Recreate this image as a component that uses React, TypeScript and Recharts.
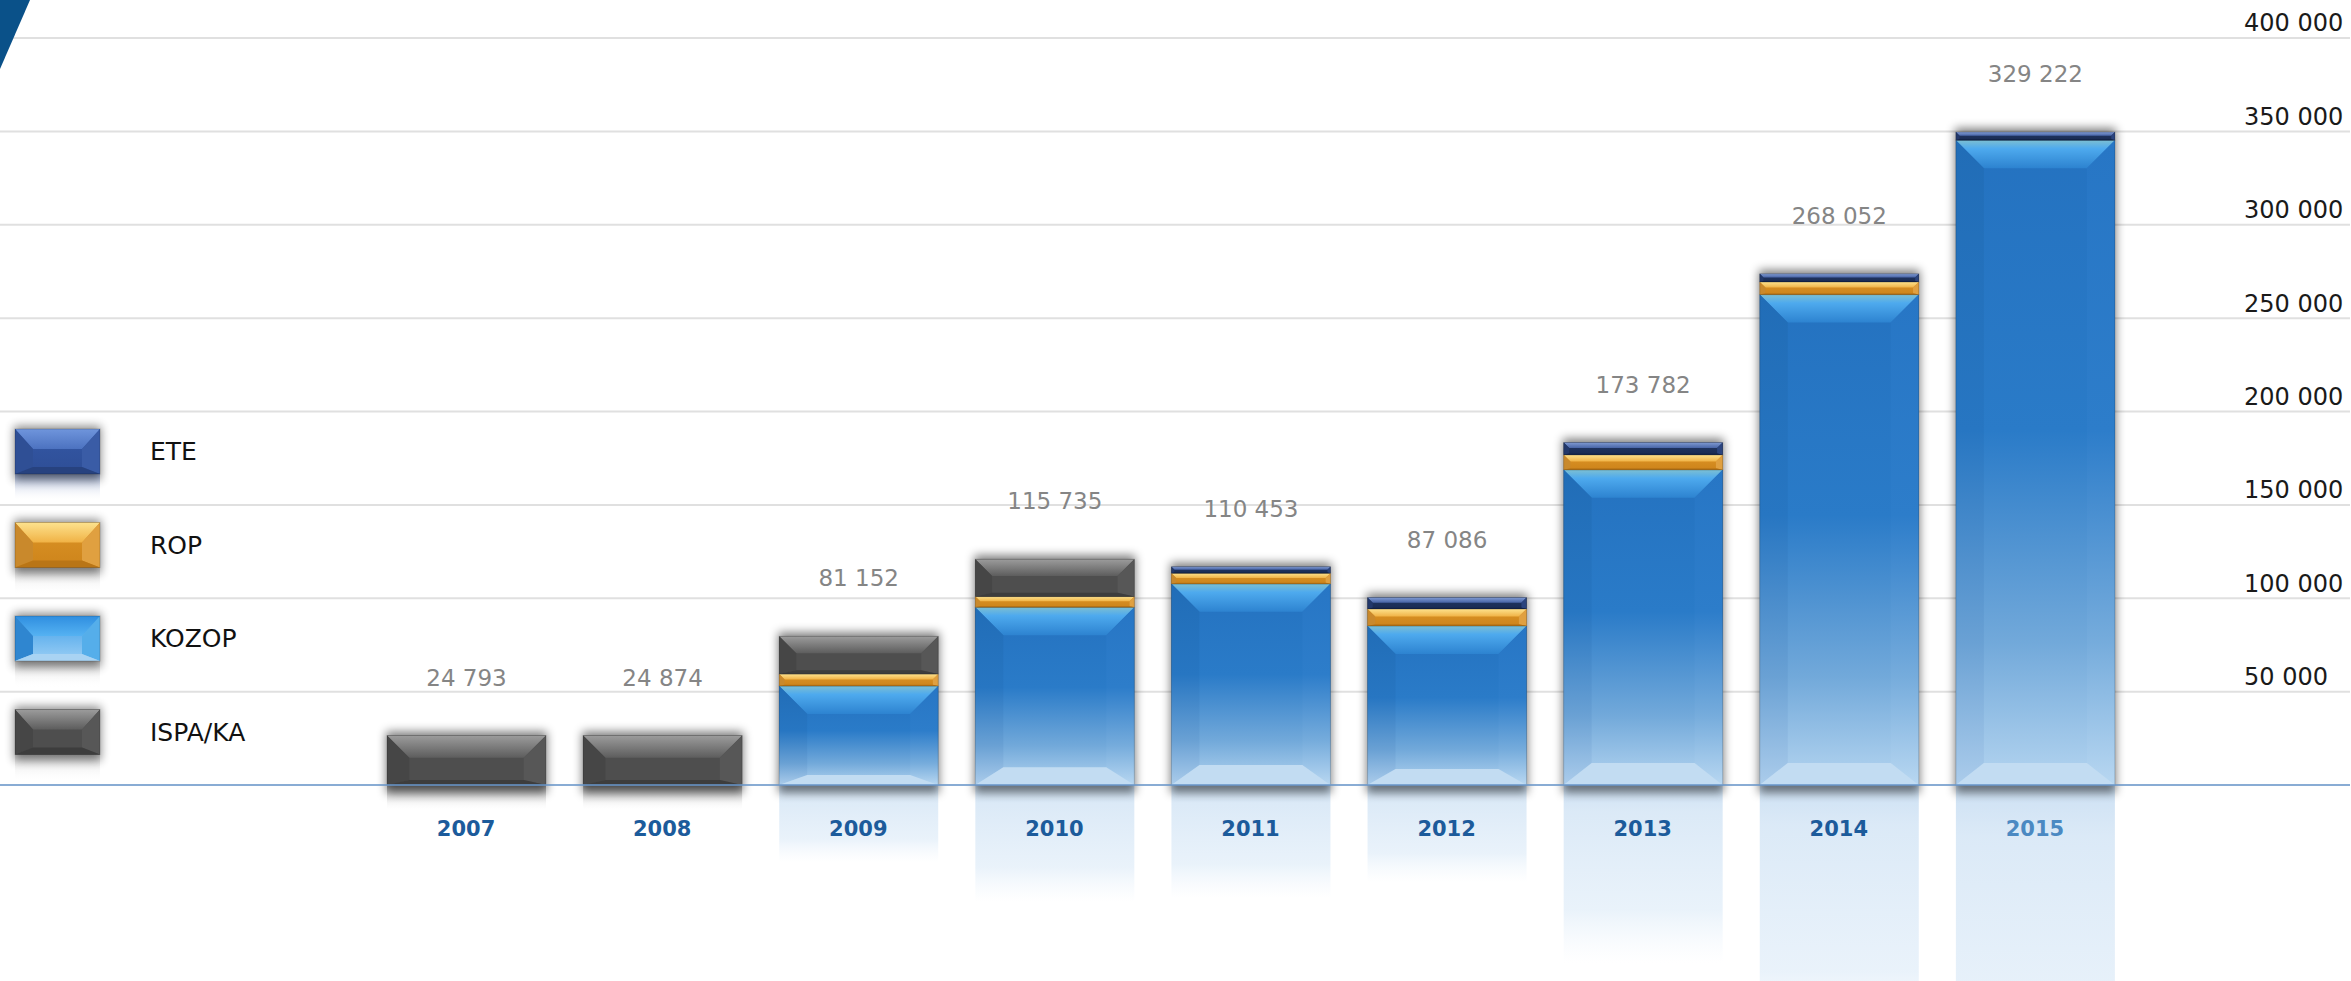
import React from 'react';
import { BarChart, Bar, XAxis, YAxis, CartesianGrid, ReferenceLine, LabelList, Legend } from 'recharts';

// ---------- data ----------
const years = ['2007', '2008', '2009', '2010', '2011', '2012', '2013', '2014', '2015'];
const kozopValues = [0, 0, 53000, 95200, 107700, 85200, 168800, 262600, 345300];
const ropValues = [0, 0, 6400, 5700, 5700, 9100, 8000, 6800, 0];
const ispaValues = [26500, 26500, 20200, 20000, 0, 0, 0, 0, 0];
const eteValues = [0, 0, 0, 0, 3500, 6100, 6600, 4300, 4300];
const totalLabels = [24793, 24874, 81152, 115735, 110453, 87086, 173782, 268052, 329222];
const yTicks = [0, 50000, 100000, 150000, 200000, 250000, 300000, 350000, 400000];

const seriesKeys = ['kozop', 'rop', 'ispa', 'ete'];
const seriesNames: Record<string, string> = { kozop: 'KOZOP', rop: 'ROP', ispa: 'ISPA/KA', ete: 'ETE' };
const legendOrder = ['ete', 'rop', 'kozop', 'ispa'];

const data = years.map((year, i) => ({
  year,
  kozop: kozopValues[i],
  rop: ropValues[i],
  ispa: ispaValues[i],
  ete: eteValues[i],
  total: totalLabels[i],
}));

const W = 2351;
const H = 981;
const FONT = '"DejaVu Sans", sans-serif';

const fmt = (n: number) => String(n).replace(/\B(?=(\d{3})+(?!\d))/g, ' ');

type Pal = { top: string; body: string; left: string; right: string; bottom: string };
const PAL: Record<string, Pal> = {
  kozop: { top: 'url(#kz-top)', body: 'url(#kz-body)', left: 'url(#kz-left)', right: 'url(#kz-right)', bottom: '#c2dcf2' },
  rop: { top: 'url(#rp-top)', body: 'url(#rp-body)', left: '#c9892c', right: '#e0a040', bottom: '#b97516' },
  ispa: { top: 'url(#is-top)', body: '#4e4e4e', left: '#464646', right: '#575757', bottom: '#3d3d3d' },
  ete: { top: 'url(#et-top)', body: 'url(#et-body)', left: '#22386a', right: '#2b447e', bottom: '#15244a' },
};
const LEGEND_PAL: Record<string, Pal> = {
  ...PAL,
  ete: { top: 'url(#etl-top)', body: 'url(#etl-body)', left: '#2f4f95', right: '#3a5ca6', bottom: '#27427f' },
  kozop: { top: 'url(#kzl-top)', body: 'url(#kzl-body)', left: '#2f86d0', right: '#55aeea', bottom: '#a9d3f3' },
};

function Bevel({ x, y, w, h, pal, t, b, bb }: { x: number; y: number; w: number; h: number; pal: Pal; t: number; b: number; bb: number }) {
  return (
    <g>
      <rect x={x} y={y} width={w} height={h} fill={pal.body} />
      <polygon points={`${x},${y} ${x + w},${y} ${x + w - b},${y + t} ${x + b},${y + t}`} fill={pal.top} />
      <polygon points={`${x},${y} ${x + b},${y + t} ${x + b},${y + h - bb} ${x},${y + h}`} fill={pal.left} />
      <polygon points={`${x + w},${y} ${x + w},${y + h} ${x + w - b},${y + h - bb} ${x + w - b},${y + t}`} fill={pal.right} />
      <polygon points={`${x},${y + h} ${x + b},${y + h - bb} ${x + w - b},${y + h - bb} ${x + w},${y + h}`} fill={pal.bottom} />
      <rect x={x} y={y} width={w} height={h} fill="none" stroke="rgba(0,0,0,0.18)" strokeWidth={1} />
    </g>
  );
}

const makeShape = (key: string) => (props: any) => {
  const { x, y, width: w, height: h, payload } = props;
  if (!h || h <= 0.01 || !payload) return <g />;
  const idx = seriesKeys.indexOf(key);
  const isBottom = seriesKeys.slice(0, idx).every((k) => !payload[k]);
  const t = Math.min(28, h * 0.45);
  const b = Math.min(28, h * 0.45);
  const bb = Math.min(22, h * 0.1);
  let extra = null;
  if (isBottom) {
    const total = seriesKeys.reduce((s, k) => s + (payload[k] || 0), 0);
    const totalPx = (h * total) / payload[key];
    const base = y + h;
    const top = base - totalPx;
    extra = (
      <g>
        <rect x={x} y={base} width={w} height={totalPx * 0.52} fill={key === 'ispa' ? 'url(#refl-gray)' : 'url(#refl-blue)'} />
        <rect x={x - 1} y={top - 4} width={w + 2} height={totalPx + 12} fill="#000" opacity={0.5} filter="url(#soft)" />
      </g>
    );
  }
  return (
    <g>
      {extra}
      <Bevel x={x} y={y} w={w} h={h} pal={PAL[key]} t={t} b={b} bb={bb} />
    </g>
  );
};

const YTick = (props: any) => {
  const { x, y, payload } = props;
  if (!payload || payload.value === 0) return <g />;
  return (
    <text x={x - 114} y={y - 15} dy="0.35em" textAnchor="start" fontSize={24} fill="#1a1a1a" fontFamily={FONT}>
      {fmt(payload.value)}
    </text>
  );
};

const XTick = (props: any) => {
  const { x, y, payload, index } = props;
  const last = index === years.length - 1;
  return (
    <text x={x} y={y + 36} dy="0.35em" textAnchor="middle" fontSize={21} fontWeight="bold" fill={last ? '#4b89c2' : '#1c5b9b'} fontFamily={FONT}>
      {payload.value}
    </text>
  );
};

const TotalLabel = (props: any) => {
  const { x, y, width, value } = props;
  if (value == null) return null;
  return (
    <text x={x + width / 2} y={y - 58} dy="0.35em" textAnchor="middle" fontSize={23} fill="#858585" fontFamily={FONT}>
      {fmt(value)}
    </text>
  );
};

const LegendContent = (props: any) => {
  const payload: any[] = props.payload || [];
  const items = legendOrder.map((k) => {
    const p = payload.find((q) => q.dataKey === k);
    return { key: k, name: p ? p.value : seriesNames[k] };
  });
  return (
    <svg width={320} height={H} style={{ display: 'block' }}>
      {items.map((it, i) => {
        const y0 = 429 + i * 93.5;
        const x0 = 15;
        const sw = 85;
        const sh = 45;
        return (
          <g key={it.key}>
            <rect x={x0} y={y0 + sh} width={sw} height={sh * 0.6} fill={it.key === 'ete' ? 'url(#refl-legend-ete)' : 'url(#refl-legend)'} />
            <rect x={x0 - 1} y={y0 - 3} width={sw + 2} height={sh + 9} fill="#000" opacity={0.45} filter="url(#soft)" />
            <Bevel x={x0} y={y0} w={sw} h={sh} pal={LEGEND_PAL[it.key]} t={20} b={18} bb={7} />
            <text x={150} y={y0 + sh / 2} dy="0.35em" fontSize={25} fill="#111" fontFamily={FONT}>
              {it.name}
            </text>
          </g>
        );
      })}
    </svg>
  );
};

function Defs() {
  return (
    <svg width={W} height={H} style={{ position: 'absolute', left: 0, top: 0 }}>
      <defs>
        <filter id="soft" x="-30%" y="-30%" width="160%" height="160%">
          <feGaussianBlur stdDeviation="5" />
        </filter>
        <linearGradient id="kz-body" x1="0" y1="0" x2="0" y2="1">
          <stop offset="0" stopColor="#2472c0" />
          <stop offset="0.45" stopColor="#2a7bc8" />
          <stop offset="0.78" stopColor="#72a9da" />
          <stop offset="1" stopColor="#b5d5f0" />
        </linearGradient>
        <linearGradient id="kz-top" x1="0" y1="0" x2="0" y2="1">
          <stop offset="0" stopColor="#7dbfd2" />
          <stop offset="0.3" stopColor="#4eaaee" />
          <stop offset="1" stopColor="#2d83d0" />
        </linearGradient>
        <linearGradient id="kz-left" x1="0" y1="0" x2="0" y2="1">
          <stop offset="0" stopColor="#216db7" />
          <stop offset="0.45" stopColor="#2776c2" />
          <stop offset="0.78" stopColor="#6aa1d4" />
          <stop offset="1" stopColor="#abcceb" />
        </linearGradient>
        <linearGradient id="kz-right" x1="0" y1="0" x2="0" y2="1">
          <stop offset="0" stopColor="#2776c5" />
          <stop offset="0.45" stopColor="#2d7dca" />
          <stop offset="0.78" stopColor="#76acdc" />
          <stop offset="1" stopColor="#b8d7f1" />
        </linearGradient>
        <linearGradient id="kzl-body" x1="0" y1="0" x2="0" y2="1">
          <stop offset="0" stopColor="#3b9de8" />
          <stop offset="1" stopColor="#9ccff5" />
        </linearGradient>
        <linearGradient id="kzl-top" x1="0" y1="0" x2="0" y2="1">
          <stop offset="0" stopColor="#2f8ee0" />
          <stop offset="1" stopColor="#55b2f2" />
        </linearGradient>
        <linearGradient id="rp-top" x1="0" y1="0" x2="0" y2="1">
          <stop offset="0" stopColor="#fde28e" />
          <stop offset="1" stopColor="#f0b245" />
        </linearGradient>
        <linearGradient id="rp-body" x1="0" y1="0" x2="0" y2="1">
          <stop offset="0" stopColor="#dc9426" />
          <stop offset="1" stopColor="#cd841b" />
        </linearGradient>
        <linearGradient id="is-top" x1="0" y1="0" x2="0" y2="1">
          <stop offset="0" stopColor="#9c9c9c" />
          <stop offset="1" stopColor="#5d5d5d" />
        </linearGradient>
        <linearGradient id="et-top" x1="0" y1="0" x2="0" y2="1">
          <stop offset="0" stopColor="#7f9ad2" />
          <stop offset="1" stopColor="#4864a6" />
        </linearGradient>
        <linearGradient id="et-body" x1="0" y1="0" x2="0" y2="1">
          <stop offset="0" stopColor="#213766" />
          <stop offset="1" stopColor="#1a2b52" />
        </linearGradient>
        <linearGradient id="etl-top" x1="0" y1="0" x2="0" y2="1">
          <stop offset="0" stopColor="#6f95dc" />
          <stop offset="1" stopColor="#4c72c0" />
        </linearGradient>
        <linearGradient id="etl-body" x1="0" y1="0" x2="0" y2="1">
          <stop offset="0" stopColor="#3458a6" />
          <stop offset="1" stopColor="#2e4e96" />
        </linearGradient>
        <linearGradient id="refl-blue" x1="0" y1="0" x2="0" y2="1">
          <stop offset="0" stopColor="#cadff3" stopOpacity="0.95" />
          <stop offset="0.15" stopColor="#d7e7f6" stopOpacity="0.9" />
          <stop offset="0.7" stopColor="#e2eef9" stopOpacity="0.75" />
          <stop offset="1" stopColor="#eef5fc" stopOpacity="0" />
        </linearGradient>
        <linearGradient id="refl-gray" x1="0" y1="0" x2="0" y2="1">
          <stop offset="0" stopColor="#6a6a6a" stopOpacity="0.7" />
          <stop offset="1" stopColor="#ffffff" stopOpacity="0" />
        </linearGradient>
        <linearGradient id="refl-legend" x1="0" y1="0" x2="0" y2="1">
          <stop offset="0" stopColor="#888888" stopOpacity="0.35" />
          <stop offset="1" stopColor="#ffffff" stopOpacity="0" />
        </linearGradient>
        <linearGradient id="refl-legend-ete" x1="0" y1="0" x2="0" y2="1">
          <stop offset="0" stopColor="#7d93c4" stopOpacity="0.8" />
          <stop offset="1" stopColor="#ffffff" stopOpacity="0" />
        </linearGradient>
      </defs>
    </svg>
  );
}

export default function App() {
  return (
    <div style={{ position: 'absolute', left: 0, top: 0, width: W, height: H, background: '#ffffff', fontFamily: FONT }}>
      <Defs />
      <div style={{ position: 'absolute', left: 0, top: 0 }}>
        <BarChart width={W} height={H} data={data} margin={{ top: 38, right: 0, bottom: 136, left: 0 }} barSize={159}>
          <CartesianGrid horizontal vertical={false} stroke="#e0e0e0" strokeWidth={2} />
          <YAxis
            orientation="right"
            width={1}
            domain={[0, 400000]}
            ticks={yTicks}
            axisLine={false}
            tickLine={false}
            tick={<YTick />}
            interval={0}
          />
          <Bar dataKey="kozop" name={seriesNames.kozop} stackId="a" fill="#2a7bc8" isAnimationActive={false} shape={makeShape('kozop')} />
          <Bar dataKey="rop" name={seriesNames.rop} stackId="a" fill="#e0a040" isAnimationActive={false} shape={makeShape('rop')} />
          <Bar dataKey="ispa" name={seriesNames.ispa} stackId="a" fill="#555555" isAnimationActive={false} shape={makeShape('ispa')} />
          <Bar dataKey="ete" name={seriesNames.ete} stackId="a" fill="#2f4f95" isAnimationActive={false} shape={makeShape('ete')}>
            <LabelList dataKey="total" content={<TotalLabel />} />
          </Bar>
          <ReferenceLine y={0} stroke="#6c9bd0" strokeWidth={1.5} />
          <XAxis
            dataKey="year"
            axisLine={false}
            tickLine={false}
            height={60}
            interval={0}
            padding={{ left: 368, right: 217 }}
            tick={<XTick />}
          />
          <Legend
            layout="horizontal"
            verticalAlign="middle"
            align="center"
            wrapperStyle={{ position: 'absolute', left: 0, top: 0, width: 320, height: H }}
            content={<LegendContent />}
          />
        </BarChart>
      </div>
      <svg width={40} height={80} style={{ position: 'absolute', left: 0, top: 0 }}>
        <polygon points="0,0 30,0 0,69" fill="#0a5189" />
      </svg>
    </div>
  );
}
